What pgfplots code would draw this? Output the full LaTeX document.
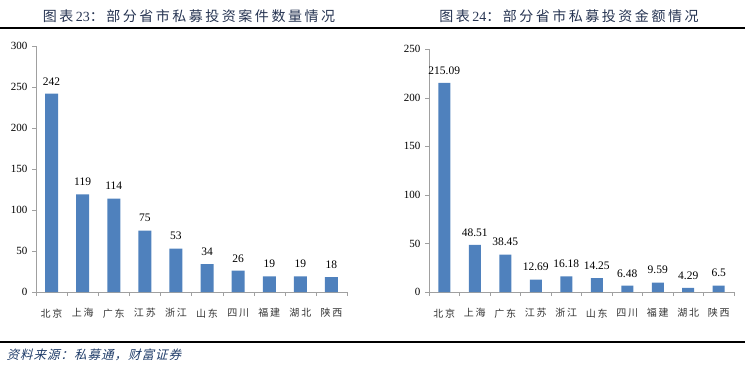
\documentclass[border=0pt]{standalone}
\usepackage{pgfplots}
\pgfplotsset{compat=1.18}
\usepackage{fontspec}
\setmainfont{Liberation Serif}
\newfontfamily\cjk{Noto Sans CJK SC}
\newfontfamily\cjkt[LetterSpace=18]{Noto Sans CJK SC}
\newfontfamily\cjks[FakeSlant=0.25,LetterSpace=8]{Noto Sans CJK SC}
\definecolor{barblue}{RGB}{79,129,189}
\definecolor{titlec}{RGB}{38,52,82}
\definecolor{srcc}{RGB}{31,60,105}
\definecolor{axisg}{RGB}{160,160,160}
\pgfplotsset{
  panel/.style={
    scale only axis,
    ybar, bar width=13pt,
    xmin=-0.5, xmax=9.5, ymin=0,
    axis x line=bottom, axis y line=left,
    axis line style={draw=axisg,-},
    tick align=outside, major tick length=4pt,
    xtick={0,...,9},
    xticklabels={北京,上海,广东,江苏,浙江,山东,四川,福建,湖北,陕西},
    xtick style={draw=none},
    extra x ticks={-0.5,0.5,...,9.5},
    extra x tick labels={},
    extra x tick style={xtick style={draw=axisg}},
    ytick style={draw=axisg},
    xticklabel style={font=\fontsize{10}{12}\cjkt\color{black!80}, yshift=-9pt},
    yticklabel style={font=\fontsize{11}{13}\selectfont, xshift=-1pt},
    /pgf/number format/assume math mode=true,
    point meta=explicit symbolic,
    nodes near coords,
    every node near coord/.append style={font=\fontsize{11.5}{13}\selectfont, yshift=5pt, black},
  }
}
\begin{document}
\begin{tikzpicture}
\path[use as bounding box] (0pt,0pt) rectangle (745pt,-368pt);
\draw[line width=1.3pt] (0pt,-28pt) -- (745pt,-28pt);
\draw[line width=1.3pt] (0pt,-342pt) -- (745pt,-342pt);
\node[text=titlec, font=\fontsize{14}{16}\selectfont] at (189pt,-16pt) {{\cjkt 图表}\,23{\cjkt ：部分省市私募投资案件数量情况}};
\node[text=titlec, font=\fontsize{14}{16}\selectfont] at (569pt,-16pt) {{\cjkt 图表}\,24{\cjkt ：部分省市私募投资金额情况}};
\node[anchor=west, text=srcc, font=\fontsize{12.5}{14}\cjks] at (3pt,-355pt) {资料来源：私募通，财富证券};
\begin{axis}[panel, at={(36pt,-292pt)}, anchor=south west,
  width=311pt, height=246pt, ymax=300, ytick={0,50,...,300}]
\addplot[fill=barblue, draw=none] coordinates {
(0,242) [242] (1,119) [119] (2,114) [114] (3,75) [75] (4,53) [53]
(5,34) [34] (6,26) [26] (7,19) [19] (8,19) [19] (9,18) [18]};
\end{axis}
\begin{axis}[panel, at={(429pt,-292pt)}, anchor=south west,
  width=305pt, height=243pt, ymax=250, ytick={0,50,...,250}, bar width=12pt]
\addplot[fill=barblue, draw=none] coordinates {
(0,215.09) [215.09] (1,48.51) [48.51] (2,38.45) [38.45] (3,12.69) [12.69] (4,16.18) [16.18]
(5,14.25) [14.25] (6,6.48) [6.48] (7,9.59) [9.59] (8,4.29) [4.29] (9,6.5) [6.5]};
\end{axis}
\end{tikzpicture}
\end{document}
